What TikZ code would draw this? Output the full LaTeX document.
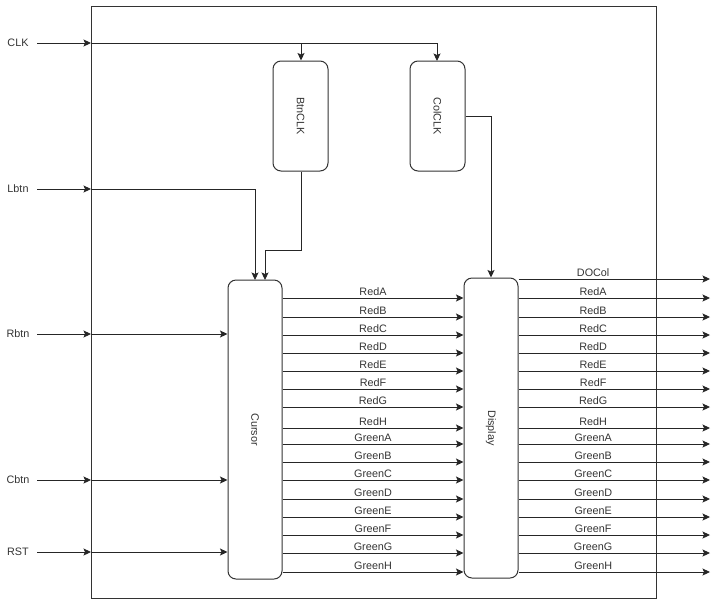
\documentclass[tikz,border=0pt]{standalone}
\usepackage{fontspec}
\setmainfont{Liberation Sans}
\usetikzlibrary{arrows.meta}
\begin{document}
\begin{tikzpicture}[x=1pt,y=-1pt,
  wire/.style={draw=black!85, line width=0.9pt},
  arr/.style={wire, -{Stealth[length=7.5pt,width=7pt,inset=1.5pt]}},
  blk/.style={draw=black!80, line width=1pt, rounded corners=8pt, inner sep=0pt},
  lbl/.style={font=\fontsize{10.8}{12}\selectfont, text=black!80, inner sep=0pt},
  sig/.style={font=\fontsize{10.8}{12}\selectfont, text=black!80, inner sep=2.2pt, above},
]
\useasboundingbox (0,0) rectangle (719,600);
% outer box
\draw[line width=1pt, draw=black!80] (91,6) rectangle (656,598);
% blocks
\node[blk, minimum width=55pt, minimum height=110pt] (btn) at (300.5,116) {};
\node[lbl, rotate=-90] at (btn.center) {BtnCLK};
\node[blk, minimum width=55pt, minimum height=110pt] (col) at (437.5,116) {};
\node[lbl, rotate=-90] at (col.center) {ColCLK};
\node[blk, minimum width=54pt, minimum height=299pt] (cur) at (255,429.5) {};
\node[lbl, rotate=-90] at (cur.center) {Cursor};
\node[blk, minimum width=54pt, minimum height=300pt] (dis) at (491,428) {};
\node[lbl, rotate=-90] at (dis.center) {Display};
% inputs
\foreach \n/\y in {CLK/43, Lbtn/189, Rbtn/334, Cbtn/480, RST/552}{
  \node[lbl] (in\n) at (18,\y) {\n};
  \coordinate (e\n) at (91,\y);
  \draw[arr] (37,\y) -- (e\n);
}
% clock distribution
\coordinate (jb) at (301,43);
\draw[wire] (eCLK) -- (jb);
\draw[arr] (jb) -- (jb |- btn.north);
\draw[arr] (jb) -- (437,43) -- (437,61);
\draw[arr] (eLbtn) -- (255,189) -- (255,280);
\draw[arr] (btn.south -| 301,0) -- (301,250) -- (265,250) -- (265,280);
\draw[arr] (col.east |- 0,116) -- (491,116) -- (dis.north);
\draw[arr] (eRbtn) -- (cur.west |- eRbtn);
\draw[arr] (eCbtn) -- (cur.west |- eCbtn);
\draw[arr] (eRST) -- (cur.west |- eRST);
% signals
\foreach \s/\y in {RedA/298, RedB/317, RedC/335, RedD/353, RedE/371, RedF/389, RedG/407, RedH/428,
  GreenA/444, GreenB/462, GreenC/480, GreenD/499, GreenE/517, GreenF/535, GreenG/553, GreenH/572}{
  \draw[arr] (cur.east |- 0,\y) -- node[sig] {\s} (dis.west |- 0,\y);
  \draw[arr] (dis.east |- 0,\y) -- node[sig, pos=0.39] {\s} (710,\y);
}
\draw[arr] (dis.east |- 0,279) -- node[sig, pos=0.39] {DOCol} (710,279);
\end{tikzpicture}
\end{document}
